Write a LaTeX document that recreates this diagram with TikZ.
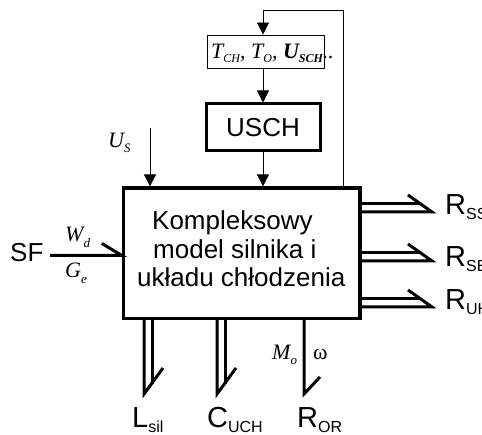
\documentclass[tikz,border=0pt]{standalone}
\usepackage{fontspec}
\setmainfont{Liberation Serif}
\setsansfont{Liberation Sans}
\usetikzlibrary{arrows.meta}
\newcommand\mysub[3]{\raisebox{-#1pt}{\fontsize{#2}{#2}\selectfont #3}}
\tikzset{
  arr/.style={line width=0.9pt,-{Triangle[length=12pt,width=12pt]}},
  fat/.style={line width=3pt},
  bigbox/.style={draw,line width=3.3pt,minimum width=236.5pt,minimum height=130.5pt,inner sep=0},
  thinbox/.style={draw,line width=0.9pt,minimum width=117pt,minimum height=33pt,inner sep=0},
  thickbox/.style={draw,line width=3pt,minimum width=114pt,minimum height=47pt,inner sep=0,font=\sffamily\fontsize{26}{26}\selectfont},
  boxtxt/.style={anchor=base west,inner sep=0,font=\sffamily\fontsize{26}{26}\selectfont},
  outlbl/.style={anchor=base west,inner sep=0,font=\sffamily\fontsize{29}{29}\selectfont},
  varlbl/.style={anchor=base west,inner sep=0,font=\fontsize{22}{22}\selectfont\itshape},
}
\begin{document}
\begin{tikzpicture}[x=1pt,y=-1pt]
\useasboundingbox (0,0) rectangle (482,435);
% boxes
\node[bigbox] (main) at (241.75,253.25) {};
\node[boxtxt] (k1) at (152,230) {Kompleksowy};
\node[boxtxt] (k2) at (153,259) {model silnika i};
\node[boxtxt] (k3) at (137,287) {układu chłodzenia};
\node[thinbox] (tbox) at (265.5,51.5) {};
\node[varlbl] (tlbl) at (211,59) {T\mysub{4}{12}{CH}, T\mysub{4}{12}{O}, {\bfseries U\mysub{4}{12}{SCH}}..};
\node[thickbox] (usch) at (263,127.5) {USCH};
% feedback and control arrows
\coordinate (fb) at (343,10);
\draw[arr] (fb |- main.north) -- (fb) -| (usch.north |- tbox.north);
\draw[arr] (usch.north |- tbox.south) -- (usch.north);
\draw[arr] (usch.south) -- (usch.south |- main.north);
\coordinate (us) at (150,128);
\draw[arr] (us) -- (us |- main.north);
\node[varlbl] (uslbl) at (108,148) {U\mysub{5}{13}{S}};
% SF input
\node[anchor=base west,inner sep=0,font=\sffamily\fontsize{26}{26}\selectfont] (sf) at (10,262) {SF};
\coordinate (sfin) at (50,255.5);
\draw[fat] (sfin) -- (main.west |- sfin) -- ++(-20,-12);
\node[varlbl] (wd) at (65,242) {W\mysub{6}{13}{d}};
\node[varlbl] (ge) at (65,278) {G\mysub{6}{13}{e}};
% right outputs
\foreach \y in {208, 257, 303} {
  \draw[fat] (main.east |- 0,\y-4) -- (421,\y-4);
  \draw[fat,miter limit=4] (main.east |- 0,\y+4) -- (432,\y+4) -- (408,\y-13);
}
\node[outlbl] (rss) at (445,215) {R\mysub{5}{16}{SS}};
\node[outlbl] (rse) at (445,267) {R\mysub{5}{16}{SE}};
\node[outlbl] (ruh) at (445,310) {R\mysub{5}{16}{UH}};
% bottom outputs
\foreach \x in {144,217} {
  \draw[fat] (main.south -| \x+8,0) -- (\x+8,384);
  \draw[fat,miter limit=4] (main.south -| \x,0) -- (\x,394) -- (\x+19,368);
}
\draw[fat,miter limit=4] (main.south -| 304,0) -- (304,394) -- (320,377);
\node[outlbl] (lsil) at (132,428) {L\mysub{5}{16}{sil}};
\node[outlbl] (cuch) at (207,428) {C\mysub{5}{16}{UCH}};
\node[outlbl] (ror) at (297,428) {R\mysub{5}{16}{OR}};
\node[varlbl] (mo) at (272,360) {M\mysub{5}{13}{o}};
\node[varlbl,font=\fontsize{22}{22}\selectfont\upshape] (om) at (313,360) {ω};
\end{tikzpicture}
\end{document}
